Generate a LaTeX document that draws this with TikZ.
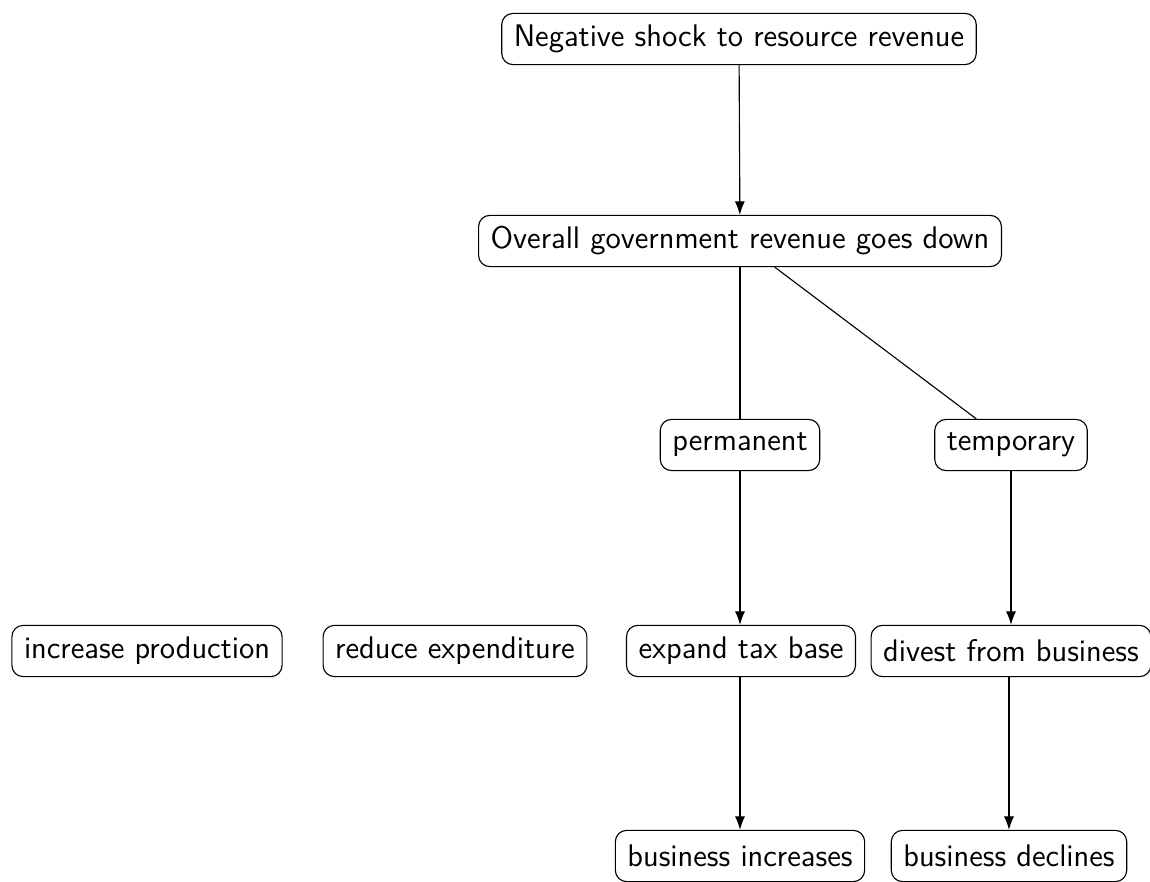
\documentclass[tikz,border=0pt]{standalone}
\usepackage{tikz}
\usetikzlibrary{positioning,arrows.meta}

\tikzset{
  box/.style={draw, rounded corners=4pt, font=\sffamily\fontsize{11.1pt}{13pt}\selectfont,
    inner xsep=4.3pt, inner ysep=2pt, minimum height=0.64cm},
  arr/.style={-Latex}
}

\begin{document}
\begin{tikzpicture}[x=0.0125cm, y=-0.0125cm]
        \useasboundingbox (0,0) rectangle (1150,882);
        \node[box] (shock) at (739,39) {Negative shock to resource revenue};
        \node[box] (overall) at (740,241) {Overall government revenue goes down};
        \node[box] (perm) at (740,445) {permanent};
        \node[box] (temp) at (1011,445) {temporary};
        \node[box] (prod) at (147,651) {increase production};
        \node[box] (expend) at (455,651) {reduce expenditure};
        \node[box] (tax) at (741,651) {expand tax base};
        \node[box] (divest) at (1011,651) {divest from business};
        \node[box] (incr) at (740,856) {business increases};
        \node[box] (decl) at (1009,856) {business declines};

        \draw[arr] (shock) -- (overall);
        \draw (overall.south -| perm) -- (perm);
        \draw (overall) -- (temp);
        \draw[arr] (perm) -- (tax.north -| perm);
        \draw[arr] (temp) -- (divest);
        \draw[arr] (tax.south -| incr) -- (incr);
        \draw[arr] (divest.south -| decl) -- (decl);
    \end{tikzpicture}
\end{document}
